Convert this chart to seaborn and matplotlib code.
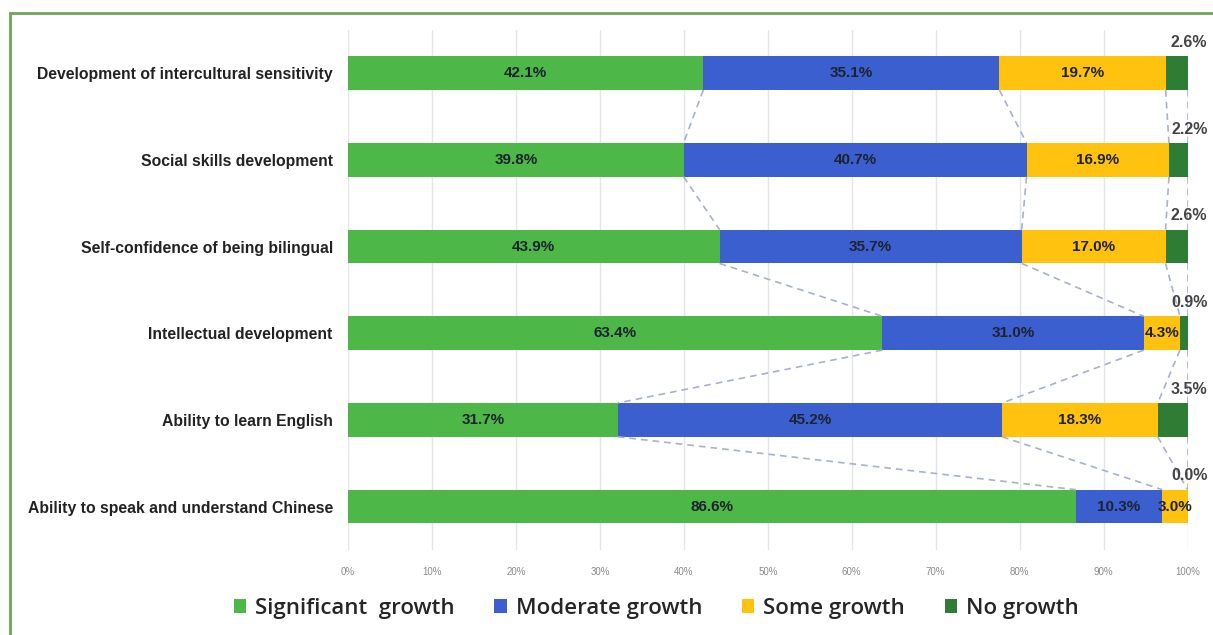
import numpy as np
import pandas as pd
import matplotlib
matplotlib.use("Agg")
import matplotlib.pyplot as plt
from matplotlib.patches import Patch, Rectangle
import seaborn as sns

categories = [
    "Development of intercultural sensitivity",
    "Social skills development",
    "Self-confidence of being bilingual",
    "Intellectual development",
    "Ability to learn English",
    "Ability to speak and understand Chinese",
]
significant = [42.1, 39.8, 43.9, 63.4, 31.7, 86.6]
moderate = [35.1, 40.7, 35.7, 31.0, 45.2, 10.3]
some = [19.7, 16.9, 17.0, 4.3, 18.3, 3.0]
no_growth = [2.6, 2.2, 2.6, 0.9, 3.5, 0.0]

series_names = ["Significant  growth", "Moderate growth", "Some growth", "No growth"]
colors = ["#4db848", "#3c5fd0", "#ffc20e", "#2f7d34"]

raw = np.array([significant, moderate, some, no_growth]).T
share = raw / raw.sum(axis=1, keepdims=True)
cum = np.cumsum(share, axis=1)

df = pd.DataFrame({"cat": categories})
for k in range(4):
    df[f"c{k}"] = cum[:, k]

sns.set_style("white")
plt.rcParams["font.family"] = ["Liberation Sans", "DejaVu Sans"]

fig = plt.figure(figsize=(12.13, 6.35), dpi=100)
ax = fig.add_axes([0.287, 0.134, 0.692, 0.819])

bar_h = 0.39
for k in range(3, -1, -1):
    sns.barplot(data=df, x=f"c{k}", y="cat", color=colors[k], width=bar_h,
                saturation=1, ax=ax, orient="h", linewidth=0)

# series lines between bars
for i in range(len(categories) - 1):
    for k in range(4):
        ax.plot([cum[i, k], cum[i + 1, k]], [i + bar_h / 2, i + 1 - bar_h / 2],
                ls=(0, (4, 3)), color="#a6b2c8", lw=1.2, zorder=1)

# segment labels
for i in range(len(categories)):
    left = 0
    for k in range(3):
        center = left + share[i, k] / 2
        ax.text(center, i, f"{raw[i, k]:.1f}%", ha="center", va="center",
                fontsize=11, fontweight="bold", color="#1e2230", zorder=5)
        left = cum[i, k]
    ax.text(1.002, i - bar_h / 2 - 0.16, f"{raw[i, 3]:.1f}%", ha="center",
            va="center", fontsize=11.5, fontweight="bold", color="#444444",
            zorder=5, clip_on=False)

ax.set_xlim(0, 1)
ax.set_ylim(len(categories) - 0.5, -0.5)
ax.set_xticks(np.linspace(0, 1, 11))
ax.set_xticklabels([f"{int(v)}%" for v in np.linspace(0, 100, 11)],
                   fontsize=7, color="#8a8a8a")
ax.tick_params(axis="x", length=0, pad=12)
ax.tick_params(axis="y", length=0, pad=11)
for lab in ax.get_yticklabels():
    lab.set_fontsize(11.3)
    lab.set_fontweight("bold")
    lab.set_color("#222222")
ax.set_xlabel("")
ax.set_ylabel("")
ax.grid(axis="x", color="#e2e5ec", lw=1)
ax.set_axisbelow(True)
for s in ax.spines.values():
    s.set_visible(False)

handles = [Patch(facecolor=c, edgecolor="none") for c in colors]
fig.legend(handles, series_names, loc="center", bbox_to_anchor=(0.541, 0.042),
           ncol=4, frameon=False, handlelength=0.55, handleheight=0.55,
           handletextpad=0.4, columnspacing=1.8,
           prop={"family": "Open Sans", "weight": "semibold", "size": 16})

fig.patches.append(Rectangle((10 / 1213, -0.05), 1.1, 1 - 13 / 635 + 0.05,
                             transform=fig.transFigure, fill=False,
                             edgecolor="#6fa355", lw=2, zorder=0))

fig.savefig("out.png", dpi=100, facecolor="white")
